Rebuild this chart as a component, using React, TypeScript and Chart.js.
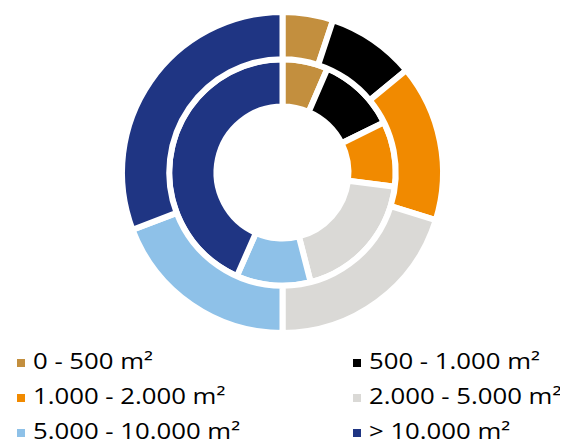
import React, { useEffect, useRef } from "react";
import { Chart, registerables } from "chart.js";

Chart.register(...registerables);

const categories = [
  "0 - 500 m²",
  "500 - 1.000 m²",
  "1.000 - 2.000 m²",
  "2.000 - 5.000 m²",
  "5.000 - 10.000 m²",
  "> 10.000 m²",
];
const outerValues = [5.1, 8.9, 15.8, 20.2, 19.2, 30.8];
const innerValues = [6.5, 11.2, 9.3, 19.0, 10.6, 43.4];
const colors = ["#C38F3E", "#000000", "#F18A00", "#DAD9D6", "#8EC1E8", "#1F3583"];

export default function App() {
  const ref = useRef<HTMLCanvasElement | null>(null);

  useEffect(() => {
    document.documentElement.style.overflow = "hidden";
    document.body.style.overflow = "hidden";
    if (!ref.current) return;
    const chart = new Chart(ref.current, {
      type: "doughnut",
      data: {
        labels: categories,
        datasets: [
          {
            data: outerValues,
            backgroundColor: colors,
            borderColor: "#ffffff",
            borderWidth: 6,
            hoverBorderWidth: 6,
          },
          {
            data: innerValues,
            backgroundColor: colors,
            borderColor: "#ffffff",
            borderWidth: 6,
            hoverBorderWidth: 6,
          },
        ],
      },
      options: {
        responsive: false,
        animation: false,
        cutout: 66,
        layout: { padding: { left: 0, right: 3, top: 1, bottom: 0 } },
        plugins: {
          legend: { display: false },
          tooltip: { enabled: false },
        },
      },
    });
    return () => chart.destroy();
  }, []);

  return (
    <div style={{ position: "relative" }}>
      <canvas ref={ref} width={552} height={328} style={{ display: "block", width: 552, height: 328 }} />
      <div
        style={{
          marginTop: 9,
          paddingLeft: 8.5,
          display: "grid",
          gridTemplateColumns: "336px auto",
          gridAutoRows: "35px",
          fontFamily: "'Open Sans', sans-serif",
          fontSize: 22,
          color: "#000",
        }}
      >
        {categories.map((c, i) => (
          <div key={c} style={{ display: "flex", alignItems: "center", height: 35, whiteSpace: "nowrap" }}>
            <span style={{ width: 8, height: 8, background: colors[i], marginRight: 8, flex: "none" }} />
            <span
              style={{
                display: "inline-block",
                lineHeight: "35px",
                transform: "scaleX(1.17)",
                transformOrigin: "left center",
                position: "relative",
                top: -2,
              }}
            >
              {c}
            </span>
          </div>
        ))}
      </div>
    </div>
  );
}
